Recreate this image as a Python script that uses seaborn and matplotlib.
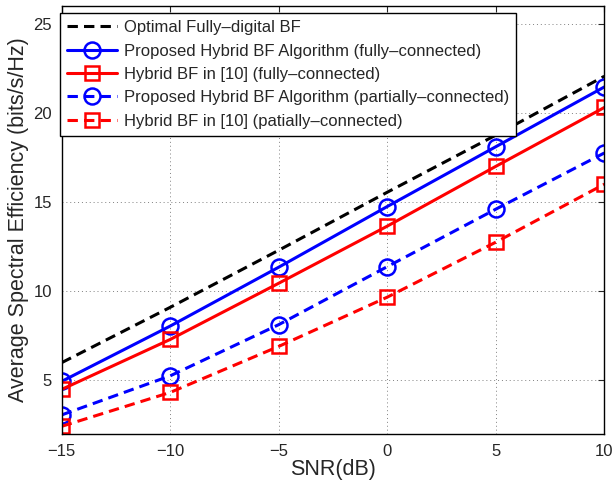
import numpy as np
import pandas as pd
import matplotlib
matplotlib.use('Agg')
import matplotlib.pyplot as plt
import seaborn as sns

## data
snr_db = [-15, -10, -5, 0, 5, 10]
optimal_digital = [6.0, 9.1, 12.3, 15.55, 18.75, 22.05]
proposed_full = [4.95, 8.05, 11.35, 14.75, 18.1, 21.45]
hybrid_ref_full = [4.5, 7.3, 10.45, 13.65, 17.0, 20.3]
proposed_partial = [3.07, 5.26, 8.13, 11.38, 14.6, 17.75]
hybrid_ref_partial = [2.43, 4.33, 6.91, 9.67, 12.75, 16.0]

series_labels = ['Optimal Fully\u2013digital BF',
                 'Proposed Hybrid BF Algorithm (fully\u2013connected)',
                 'Hybrid BF in [10] (fully\u2013connected)',
                 'Proposed Hybrid BF Algorithm (partially\u2013connected)',
                 'Hybrid BF in [10] (patially\u2013connected)']

## long table for seaborn
df = pd.DataFrame({
    'snr': snr_db * 5,
    'se': optimal_digital + proposed_full + hybrid_ref_full + proposed_partial + hybrid_ref_partial,
    'scheme': np.repeat(series_labels, len(snr_db)),
})

sns.set_style('white')
plt.rcParams['font.family'] = ['Liberation Sans', 'DejaVu Sans']

fig = plt.figure(figsize=(6.13, 4.82), dpi=100)
ax = fig.add_axes([0.1007, 0.0996, 0.8851, 0.8884])

dash = (0, (3.4, 2.0))
styles = [
    dict(color='black', linestyle=dash, marker=None),
    dict(color='#0000ff', linestyle='-', marker='o', markersize=11.5),
    dict(color='#ff0000', linestyle='-', marker='s', markersize=10),
    dict(color='#0000ff', linestyle=dash, marker='o', markersize=11.5),
    dict(color='#ff0000', linestyle=dash, marker='s', markersize=10),
]

## draw each scheme
for lab, st in zip(series_labels, styles):
    sub = df[df['scheme'] == lab]
    sns.lineplot(data=sub, x='snr', y='se', ax=ax, label=lab, linewidth=2.2,
                 markerfacecolor='none', markeredgewidth=1.8,
                 markeredgecolor=st['color'], **st)

ax.set_xlim(-15, 10)
ax.set_ylim(2, 26)
ax.set_xticks([-15, -10, -5, 0, 5, 10])
ax.set_yticks([5, 10, 15, 20, 25])
ax.grid(True, linestyle=(0, (1, 3)), color='0.5', linewidth=0.7)
ax.tick_params(direction='in', top=True, right=True, length=4, width=0.8,
               labelsize=12, pad=7)
for sp in ax.spines.values():
    sp.set_color('black')
    sp.set_linewidth(1.0)

ax.set_xlabel('SNR(dB)', fontsize=15.5, labelpad=0)
ax.set_ylabel('Average Spectral Efficiency (bits/s/Hz)', fontsize=15.5, labelpad=3)

## legend box
leg = ax.legend(loc='upper left', bbox_to_anchor=(0.0974, 0.9724),
                bbox_transform=fig.transFigure, borderaxespad=0,
                fontsize=12, handlelength=3.0, handletextpad=0.45,
                labelspacing=0.5, fancybox=False, framealpha=1,
                edgecolor='black', borderpad=0.42)
leg.get_frame().set_linewidth(1.0)

plt.savefig('out.png', dpi=100)
